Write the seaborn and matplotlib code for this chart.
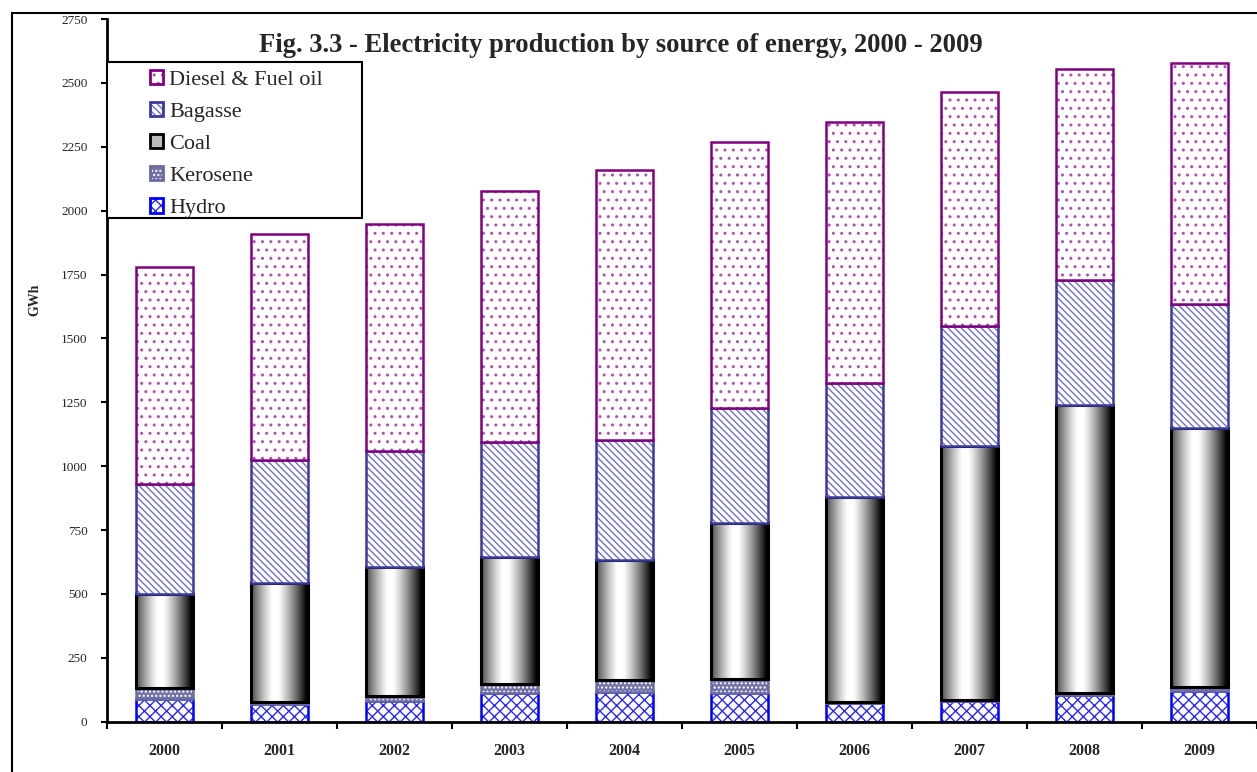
import numpy as np
import pandas as pd
import seaborn as sns
import matplotlib.pyplot as plt
from matplotlib.patches import Patch, Rectangle
import matplotlib.colors as mcolors

# Données (GWh)
years = ["2000", "2001", "2002", "2003", "2004", "2005", "2006", "2007", "2008", "2009"]
hydro = [88, 70, 82, 112, 117, 111, 74, 81, 106, 121]
kerosene = [45, 9, 18, 35, 46, 57, 4, 4, 8, 15]
coal = [367, 464, 506, 498, 469, 608, 800, 994, 1126, 1014]
bagasse = [429, 481, 453, 449, 470, 452, 446, 468, 488, 484]
diesel = [851, 885, 890, 983, 1057, 1042, 1024, 918, 826, 942]

sns.set_theme(style="white")
plt.rcParams["font.family"] = ["Liberation Serif", "DejaVu Serif"]
plt.rcParams["hatch.linewidth"] = 1.0

W, H = 1257, 772
fig = plt.figure(figsize=(W / 100, H / 100), dpi=100)
ax = fig.add_axes([107 / W, 1 - 721.7 / H, 1 - 107 / W, (721.7 - 19) / H])

# style de chaque source : remplissage, contour, hachure, couleur hachure
series = [
    ("Hydro", hydro, "white", "#0000FF", "xxx", "#2A2AFF"),
    ("Kerosene", kerosene, "#7272A8", "#6A6AA0", "....", "#FFFFFF"),
    ("Coal", coal, "none", "black", None, None),
    ("Bagasse", bagasse, "white", "#3A3A9C", "\\\\\\\\\\", "#7070C8"),
    ("Diesel & Fuel oil", diesel, "white", "#800080", "..", "#B050B0"),
]

bottom = np.zeros(len(years))
coal_bars = []
for name, vals, face, edge, hatch, hcol in series:
    n_before = len(ax.patches)
    sns.barplot(x=years, y=vals, bottom=bottom, width=0.5, color=face if face != "none" else "white",
                saturation=1, errorbar=None, ax=ax)
    bars = ax.patches[n_before:]
    for b in bars:
        b.set_facecolor(face)
        b.set_edgecolor(edge)
        b.set_linewidth(2.2 if name == "Coal" else 1.8)
        if hatch:
            b.set_hatch(hatch)
            b._hatch_color = mcolors.to_rgba(hcol)
    if name == "Coal":
        coal_bars = bars
    bottom = bottom + np.array(vals)

# dégradé cylindrique pour le charbon
xs = np.linspace(0, 1, 128)
grad = np.clip(1.05 - np.abs((xs - 0.42) / 0.52) ** 1.3, 0, 1)
for b in coal_bars:
    x0, y0 = b.get_x(), b.get_y()
    im = ax.imshow(grad[np.newaxis, :], cmap="gray", vmin=0, vmax=1, aspect="auto",
                   extent=[x0, x0 + b.get_width(), y0, y0 + b.get_height()],
                   interpolation="bicubic", zorder=b.get_zorder() - 0.05)
    im.set_clip_path(b)

ax.set_xlim(-0.5, 9.5 - 8 / 116)
ax.set_ylim(0, 2750)
ax.set_yticks(np.arange(0, 2751, 250))
ax.set_xticks(range(len(years)))
ax.set_xticklabels(years, fontweight="bold", fontsize=11.5)
ax.set_xticks(np.arange(-0.5, 10, 1), minor=True)
ax.tick_params(axis="x", which="major", length=0, pad=15)
ax.tick_params(axis="x", which="minor", length=5, width=1.5, direction="out", color="black", bottom=True)
ax.tick_params(axis="y", length=4, width=1.5, direction="out", color="black", left=True, pad=10, labelsize=9.5)
ax.set_xlabel("")
ax.set_ylabel("")
for s in ["top", "right"]:
    ax.spines[s].set_visible(False)
for s in ["left", "bottom"]:
    ax.spines[s].set_color("black")
    ax.spines[s].set_linewidth(2)

fig.text(621 / W, 1 - 45 / H, "Fig. 3.3 - Electricity production by source of energy, 2000 - 2009",
         ha="center", va="center", fontsize=19.2, fontweight="bold")
fig.text(35 / W, 1 - 300 / H, "GWh", rotation=90, ha="center", va="center", fontsize=10, fontweight="bold")

# légende
handles = []
labels = []
for name, vals, face, edge, hatch, hcol in reversed(series):
    p = Patch(facecolor=face if face != "none" else "#BBBBBB", edgecolor=edge, linewidth=2,
              hatch=hatch)
    if hatch:
        p._hatch_color = mcolors.to_rgba(hcol)
    handles.append(p)
    labels.append(name)
leg = ax.legend(handles, labels, loc="upper left", bbox_to_anchor=(150 / W, 1 - 70 / H),
                bbox_transform=fig.transFigure, frameon=False, fontsize=16, borderpad=0,
                borderaxespad=0, handlelength=0.6, handleheight=0.6, handletextpad=0.25,
                labelspacing=0.55)
leg.set_zorder(6)
ax.add_patch(Rectangle((107 / W, 1 - 218 / H), 255 / W, 156 / H, transform=fig.transFigure,
                       fill=True, facecolor="white", edgecolor="black", linewidth=1.5,
                       zorder=5, clip_on=False))
# cadre extérieur
fig.add_artist(Rectangle((12 / W, -0.05), 1.2, 1 - 13 / H + 0.05, transform=fig.transFigure,
                         fill=False, edgecolor="black", linewidth=1.5))

fig.savefig("out.png", dpi=100)
